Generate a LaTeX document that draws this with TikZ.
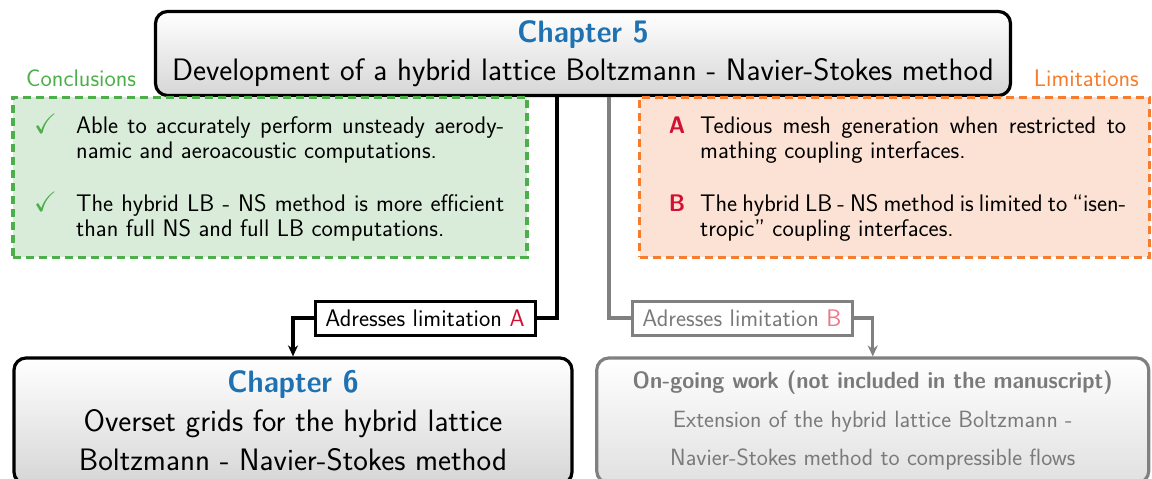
\documentclass[tikz,border=0pt]{standalone}
\usepackage{amssymb}
\usepackage{graphicx}
\usepackage{fontspec}
\usetikzlibrary{arrows.meta}
\definecolor{chblue}{RGB}{31,114,178}
\definecolor{cgreen}{RGB}{77,175,74}
\definecolor{cgreenfill}{RGB}{217,236,218}
\definecolor{corange}{RGB}{245,125,45}
\definecolor{corangefill}{RGB}{252,226,212}
\definecolor{cred}{RGB}{210,16,52}
\definecolor{cpink}{RGB}{236,120,136}
\definecolor{cgray}{RGB}{128,128,128}
\definecolor{cgraytext}{RGB}{122,122,122}
\newcommand{\cbold}[1]{\scalebox{0.93}[1]{\bfseries #1}}
\newcommand{\chk}{\llap{\textcolor{cgreen}{\fontsize{28}{28}\selectfont$\checkmark$}\hspace{19pt}}}
\begin{document}
\begin{tikzpicture}[x=1pt,y=-1pt,
  chbox/.style={draw, line width=3.2pt, rounded corners=12pt, top color=white, bottom color=black!16, align=center, inner sep=0pt},
  dashbox/.style={dash pattern=on 8pt off 5pt, line width=3.2pt, inner sep=0pt},
  small/.style={font=\sffamily\fontsize{24}{25}\selectfont},
  big/.style={font=\sffamily\fontsize{31}{39}\selectfont},
  itemtext/.style={small, anchor=base west, text width=428pt, align=justify, inner sep=0pt},
  labelbox/.style={small, draw, line width=3pt, fill=white, minimum width=220pt, minimum height=34pt, inner sep=0pt},
  conn/.style={line width=3.2pt},
  arr/.style={conn, -{Stealth[length=11pt,width=10pt]}}
]
\useasboundingbox (0,0) rectangle (1152,479);

% Chapter 5
\node[chbox, minimum width=855pt, minimum height=84pt, font=\sffamily\fontsize{31}{38}\selectfont] (c5) at (583,53.5)
  {\textcolor{chblue}{\cbold{Chapter 5}}\\Development of a hybrid lattice Boltzmann - Navier-Stokes method};

% Conclusions
\node[small, anchor=base west, text=cgreen, inner sep=0pt] (conc) at (26,86) {Conclusions};
\node[dashbox, draw=cgreen, fill=cgreenfill, minimum width=514pt, minimum height=160pt] (gbox) at (270,177.3) {};
\node[itemtext] (g1) at (76,133.5) {\chk Able to accurately perform unsteady aerody-\linebreak namic and aeroacoustic computations.};
\node[itemtext] (g2) at (76,211) {\chk The hybrid LB - NS method is more efficient\linebreak than full NS and full LB computations.};

% Limitations
\node[small, anchor=base east, text=corange, inner sep=0pt] (lim) at (1139,86) {Limitations};
\node[dashbox, draw=corange, fill=corangefill, minimum width=510pt, minimum height=160pt] (obox) at (894.5,177.3) {};
\node[itemtext, text width=426pt] (o1) at (700,133.5) {\llap{\textcolor{cred}{\cbold{A}}\hspace{15pt}}Tedious mesh generation when restricted to\linebreak mathing coupling interfaces.};
\node[itemtext, text width=426pt] (o2) at (700,211) {\llap{\textcolor{cred}{\cbold{B}}\hspace{15pt}}The hybrid LB - NS method is limited to “isen-\linebreak tropic” coupling interfaces.};

% Labels
\node[labelbox] (la) at (425,318) {Adresses limitation \textcolor{cred}{A}};
\node[labelbox, draw=cgray, text=cgraytext] (lb) at (742,318) {Adresses limitation \textcolor{cpink}{B}};

% Chapter 6
\node[chbox, big, minimum width=558pt, minimum height=126pt] (c6) at (293,421)
  {\textcolor{chblue}{\cbold{Chapter 6}}\\Overset grids for the hybrid lattice\\Boltzmann - Navier-Stokes method};

% On-going work
\node[chbox, draw=cgray, text=cgraytext, bottom color=black!12, minimum width=552pt, minimum height=125pt, font=\sffamily\fontsize{23.5}{38.5}\selectfont] (gb) at (872.75,420.5)
  {\cbold{On-going work (not included in the manuscript)}\\Extension of the hybrid lattice Boltzmann -\\Navier-Stokes method to compressible flows};

% Connectors
\draw[conn] ([xshift=-26pt]c5.south) |- (la.east);
\draw[arr] (la.west) -| (c6.north);
\draw[conn, cgray] ([xshift=26pt]c5.south) |- (lb.west);
\draw[arr, cgray] (lb.east) -| (gb.north);
\end{tikzpicture}
\end{document}
